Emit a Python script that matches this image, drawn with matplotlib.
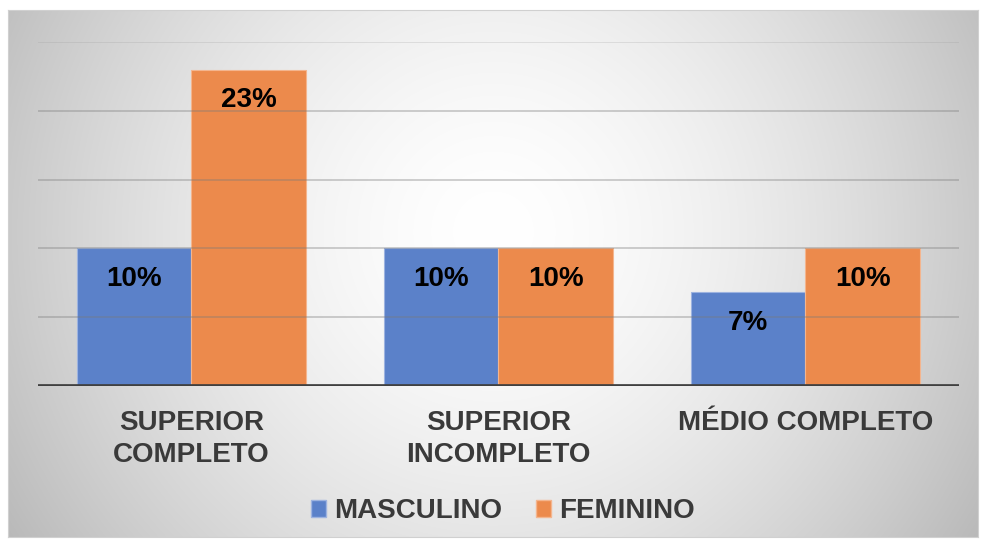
import numpy as np
import matplotlib
matplotlib.use("Agg")
import matplotlib.pyplot as plt
from matplotlib.patches import Patch

categories = ["SUPERIOR\nCOMPLETO", "SUPERIOR\nINCOMPLETO", "MÉDIO COMPLETO"]
masculino = [10, 10, 6.8]
feminino = [23, 10, 10]
masc_labels = ["10%", "10%", "7%"]
fem_labels = ["23%", "10%", "10%"]
series_names = ["MASCULINO", "FEMININO"]

plt.rcParams['font.family'] = ['Liberation Sans', 'DejaVu Sans']

W, H = 981, 539
fig = plt.figure(figsize=(W / 100, H / 100), dpi=100)
fig.patch.set_facecolor("white")

# background chart area with radial gradient
bx0, by0, bx1, by1 = 8, 10, 978, 537
bg = fig.add_axes([bx0 / W, 1 - by1 / H, (bx1 - bx0) / W, (by1 - by0) / H])
bw, bh = bx1 - bx0, by1 - by0
xx, yy = np.meshgrid(np.arange(bw), np.arange(bh))
cx, cy = bw / 2, bh * 0.42
d = np.sqrt((xx - cx) ** 2 + (yy - cy) ** 2) / (bw / 2)
g = 1 - 0.21 * np.clip(d, 0, None) ** 1.6
g = np.clip(g, 0.72, 1)
img = np.dstack([g, g, g])
bg.imshow(img, aspect='auto', extent=[0, 1, 0, 1], interpolation='bilinear')
bg.set_xlim(0, 1); bg.set_ylim(0, 1)
for s in bg.spines.values():
    s.set_color("#d0d0d0"); s.set_linewidth(0.8)
bg.set_xticks([]); bg.set_yticks([])

# main axes
px0, px1, py_top, py_base = 38, 959, 42, 386
ax = fig.add_axes([px0 / W, 1 - py_base / H, (px1 - px0) / W, (py_base - py_top) / H])
ax.patch.set_alpha(0)
ax.set_xlim(-0.5, len(categories) - 0.5)
ax.set_ylim(0, 25)

x = np.arange(len(categories))
bw_ = 0.373
blue = "#5B81C9"
orange = "#EC8A4C"
ax.bar(x - bw_ / 2, masculino, width=bw_, color=blue, edgecolor="#9db3e0", linewidth=0.8, zorder=2)
ax.bar(x + bw_ / 2, feminino, width=bw_, color=orange, edgecolor="#f4b58e", linewidth=0.8, zorder=2)

for yv in [5, 10, 15, 20]:
    ax.axhline(yv, color="#7a7a7a", alpha=0.45, linewidth=1.1, zorder=3)
ax.axhline(25, color="#9a9a9a", alpha=0.3, linewidth=1.1, zorder=3)
ax.axhline(0, color="#404040", linewidth=3.4, zorder=4)

for i in range(len(categories)):
    ax.text(x[i] - bw_ / 2, masculino[i] - 2.2, masc_labels[i], ha='center', va='center',
            fontsize=20, fontweight='bold', color='black', zorder=5)
    ax.text(x[i] + bw_ / 2, feminino[i] - 2.2, fem_labels[i], ha='center', va='center',
            fontsize=20, fontweight='bold', color='black', zorder=5)

for s in ax.spines.values():
    s.set_visible(False)
ax.set_yticks([])
ax.set_xticks(x)
ax.set_xticklabels(categories, fontsize=20, fontweight='bold', color="#3a3a3a", linespacing=1.3)
ax.tick_params(axis='x', length=0, pad=17)

handles = [Patch(facecolor=blue, edgecolor="#9db3e0"), Patch(facecolor=orange, edgecolor="#f4b58e")]
leg = fig.legend(handles, series_names, loc='center', bbox_to_anchor=(503 / W, 1 - 511 / H),
                 ncol=2, frameon=False, handlelength=0.55, handleheight=0.55, handletextpad=0.3,
                 columnspacing=1.2, prop={'size': 20, 'weight': 'bold'})
for t in leg.get_texts():
    t.set_color("#3a3a3a")

fig.savefig("out.png", dpi=100)
